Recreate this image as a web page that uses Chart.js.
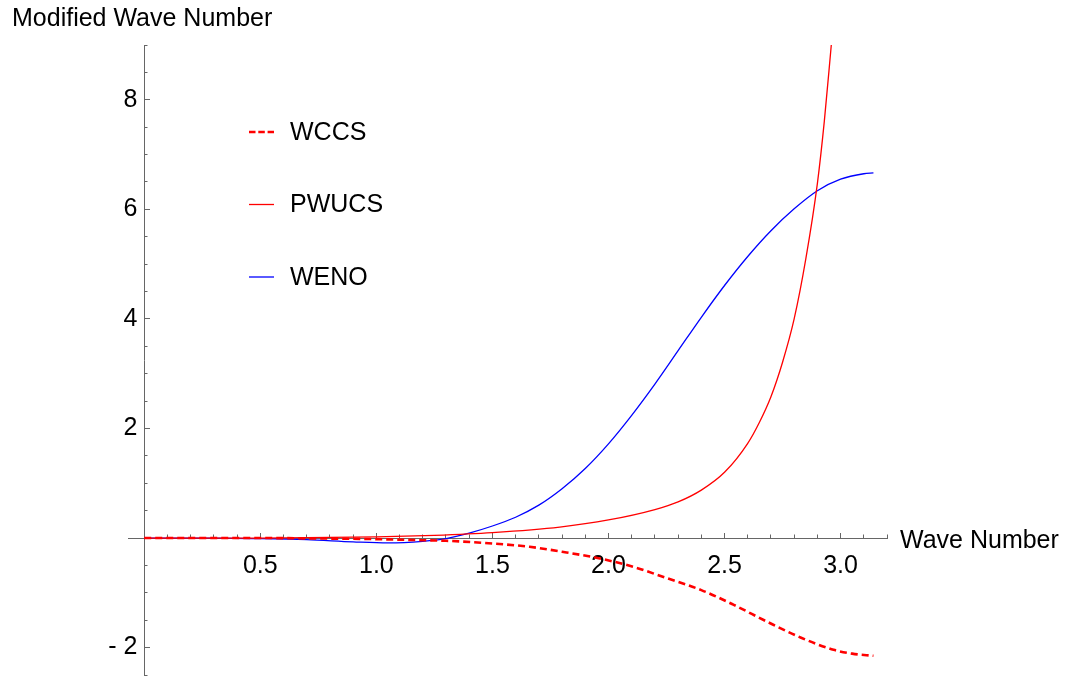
<!DOCTYPE html>
<html>
<head>
<meta charset="utf-8">
<title>Modified Wave Number</title>
<script src="https://cdn.jsdelivr.net/npm/chart.js@4.4.1/dist/chart.umd.min.js"></script>
<style>
  html, body { margin: 0; padding: 0; background: #fff; }
  #wrap { width: 1065px; height: 677px; position: relative; }
</style>
</head>
<body>
<div id="wrap"><canvas id="chart-wave"></canvas></div>
<script>
// values
var wccsX  = [0, 0.5, 0.8, 1.0, 1.2, 1.3, 1.5, 1.66, 1.8, 1.97, 2.11, 2.25, 2.4, 2.54, 2.685, 2.83, 2.97, 3.05, 3.1416];
var wccsY  = [0, 0, -0.01, -0.02, -0.04, -0.05, -0.1, -0.16, -0.25, -0.38, -0.53, -0.73, -0.95, -1.22, -1.53, -1.82, -2.04, -2.11, -2.15];

var pwucsX = [0, 0.5, 1.0, 1.25, 1.5, 1.79, 2.0, 2.2, 2.3, 2.4, 2.5, 2.6, 2.65, 2.7, 2.75, 2.8, 2.85, 2.9, 2.93, 2.96];
var pwucsY = [0, 0, 0.02, 0.05, 0.1, 0.2, 0.33, 0.52, 0.66, 0.875, 1.2, 1.73, 2.11, 2.58, 3.21, 4.0, 5.09, 6.47, 7.61, 9.0];

var wenoX  = [0, 0.3, 0.5, 0.7, 0.9, 1.05, 1.2, 1.3, 1.4, 1.5, 1.6, 1.7, 1.8, 1.9, 2.0, 2.1, 2.2, 2.3, 2.4, 2.5, 2.6, 2.7, 2.8, 2.9, 3.0, 3.1, 3.1416];
var wenoY  = [0, 0, -0.01, -0.03, -0.07, -0.09, -0.06, -0.01, 0.09, 0.22, 0.38, 0.6, 0.9, 1.27, 1.72, 2.24, 2.81, 3.42, 4.03, 4.61, 5.14, 5.61, 6.01, 6.34, 6.55, 6.65, 6.665];

var xTickLabels = [0.5, 1.0, 1.5, 2.0, 2.5, 3.0];
var xMinorTicks = [0.1, 0.2, 0.3, 0.4, 0.5, 0.6, 0.7, 0.8, 0.9, 1.0, 1.1, 1.2, 1.3, 1.4, 1.5, 1.6,
                   1.7, 1.8, 1.9, 2.0, 2.1, 2.2, 2.3, 2.4, 2.5, 2.6, 2.7, 2.8, 2.9, 3.0, 3.1, 3.2];
var yTickLabels = [-2, 2, 4, 6, 8];
var yMinorTicks = [-2.5, -2, -1.5, -1, -0.5, 0.5, 1, 1.5, 2, 2.5, 3, 3.5, 4, 4.5, 5, 5.5, 6, 6.5, 7, 7.5, 8, 8.5, 9];

var FONT_FAMILY = "'Liberation Sans', Arial, sans-serif";
var AXIS_COLOR = '#666666';
var X_MIN = -0.07, X_MAX = 3.2, Y_MIN = -2.5, Y_MAX = 9;

function toPoints(xs, ys) {
    return xs.map(function(x, i) { return {x: x, y: ys[i]}; });
}

function setTicks(list) {
    return function(scale) {
        scale.ticks = list.map(function(v) { return {value: v}; });
    };
}

function noPadding(scale) {
    scale.paddingLeft = 0; scale.paddingRight = 0;
    scale.paddingTop = 0; scale.paddingBottom = 0;
}

// Mathematica-like axis: ticks pointing inwards, no grid
function axisScale(min, max, pos, ticks, tickLen, showLabels, extra) {
    var s = {
        type: 'linear',
        min: min,
        max: max,
        position: pos,
        grid: {display: true, drawOnChartArea: false, drawTicks: true, tickLength: tickLen, tickColor: AXIS_COLOR, tickWidth: 1},
        border: {display: showLabels, color: AXIS_COLOR, width: 1},
        ticks: {display: showLabels, autoSkip: false, maxRotation: 0, minRotation: 0, color: '#000',
                font: {family: FONT_FAMILY, size: 25}},
        afterBuildTicks: setTicks(ticks),
        afterFit: noPadding
    };
    if (extra) { Object.assign(s.ticks, extra); }
    return s;
}

var legendAndTitles = {
    id: 'legendAndTitles',
    afterDraw: function(chart) {
        var ctx = chart.ctx;
        var y0 = chart.scales.y.getPixelForValue(0);
        ctx.save();
        ctx.font = '25px ' + FONT_FAMILY;
        ctx.fillStyle = '#000';
        ctx.textBaseline = 'middle';
        ctx.textAlign = 'left';
        ctx.fillText('Modified Wave Number', 12, 19);
        ctx.fillText('Wave Number', 900, y0 + 3);

        chart.data.datasets.forEach(function(ds, i) {
            var ly = 132 + i * 72.5;
            ctx.beginPath();
            ctx.strokeStyle = ds.borderColor;
            ctx.lineWidth = ds.borderWidth;
            ctx.setLineDash(ds.borderDash ? [6.5, 2.8] : []);
            ctx.moveTo(249, ly);
            ctx.lineTo(274, ly);
            ctx.stroke();
            ctx.setLineDash([]);
            ctx.fillText(ds.label, 290, ly + 1);
        });
        ctx.restore();
    }
};

var ctx = document.getElementById('chart-wave');
var waveChart = new Chart(ctx, {
    type: 'line',
    data: {
        datasets: [
            {
                label: 'WCCS',
                data: toPoints(wccsX, wccsY),
                borderColor: '#ff0000',
                borderWidth: 2.6,
                borderDash: [7, 4]
            }, {
                label: 'PWUCS',
                data: toPoints(pwucsX, pwucsY),
                borderColor: '#ff0000',
                borderWidth: 1.3
            }, {
                label: 'WENO',
                data: toPoints(wenoX, wenoY),
                borderColor: '#0000ff',
                borderWidth: 1.3
            }
        ]
    },
    options: {
        responsive: true,
        maintainAspectRatio: false,
        animation: false,
        layout: {padding: {left: 128, right: 178, top: 45, bottom: 2}},
        elements: {
            point: {radius: 0, hoverRadius: 0},
            line: {fill: false, cubicInterpolationMode: 'monotone'}
        },
        plugins: {
            legend: {display: false},
            tooltip: {enabled: false},
            title: {display: false}
        },
        scales: {
            x: axisScale(X_MIN, X_MAX, {y: 0}, xTickLabels, -6, true, {
                padding: 19,
                callback: function(value) { return value.toFixed(1); }
            }),
            xMinor: axisScale(X_MIN, X_MAX, {y: 0}, xMinorTicks, -3.5, false),
            y: axisScale(Y_MIN, Y_MAX, {x: 0}, yTickLabels, -6, true, {
                padding: 6,
                callback: function(value) {
                    return value < 0 ? '- ' + Math.abs(value) + ' ' : value + ' ';
                }
            }),
            yMinor: axisScale(Y_MIN, Y_MAX, {x: 0}, yMinorTicks, -3.5, false)
        }
    },
    plugins: [legendAndTitles]
});
</script>
</body>
</html>
